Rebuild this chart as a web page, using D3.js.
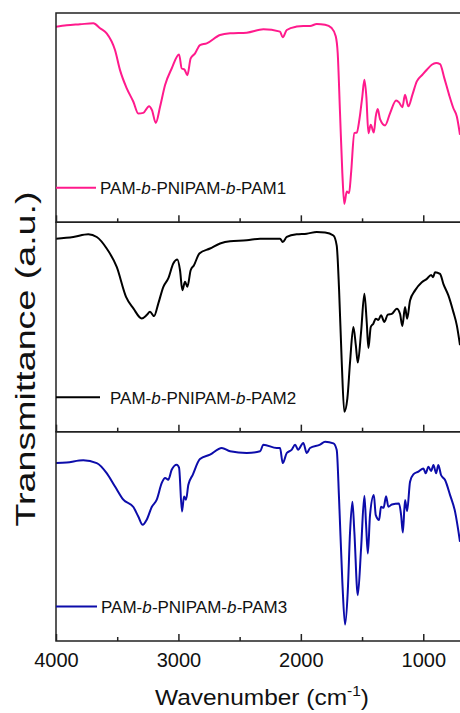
<!DOCTYPE html>
<html>
<head>
<meta charset="utf-8">
<script src="https://cdn.jsdelivr.net/npm/d3@7"></script>
<style>
  body { margin: 0; background: #fff; }
  svg { display: block; font-family: "Liberation Sans", Arial, sans-serif; }
</style>
</head>
<body>
<svg id="chart" width="460" height="713"></svg>
<script>
// FTIR spectra, wavenumber (cm-1) vs transmittance (a.u.)
var wn1 = [4000,3913,3804,3695,3640,3586,3518,3477,3422,3368,3328,3287,3240,3216,3185,3150,3109,3055,2995,2973,
  2952,2927,2900,2864,2824,2769,2660,2578,2442,2306,2170,2148,2115,2034,1980,1925,1870,1802,1748,1715,
  1699,1680,1661,1645,1625,1606,1590,1563,1543,1522,1498,1481,1465,1448,1429,1404,1388,1372,1353,1312,
  1271,1222,1198,1171,1149,1122,1089,1053,1007,971,931,895,863,828,789,754,726,700]
var tr1 = [93.4,94.1,94.6,95.1,92.7,90.3,82.3,72.7,64.0,57.6,52.0,52.3,55.5,53.6,47.5,55.2,65.6,73.5,80.2,73.5,
  73.1,70.3,78.3,80.7,84.7,85.5,89.5,90.3,90.6,92.2,91.1,88.4,91.9,93.5,93.8,93.8,94.7,94.4,92.8,88.9,
  80.9,52.2,23.4,8.8,14.7,13.9,23.4,42.6,42.9,49.0,60.1,68.1,60.1,42.6,46.6,42.9,50.6,54.1,49.3,46.3,
  52.2,58.2,57.3,55.0,60.9,55.4,60.9,67.3,70.5,72.9,75.3,76.1,75.6,68.9,60.9,54.5,50.6,41.8]

var wn2 = [4000,3859,3736,3667,3586,3504,3428,3368,3300,3259,3232,3199,3164,3123,3083,3042,3009,2987,2968,2946,
  2927,2900,2873,2829,2742,2660,2578,2442,2333,2170,2148,2115,2034,1952,1870,1802,1734,1707,1688,1666,
  1645,1620,1598,1571,1551,1535,1508,1481,1462,1448,1429,1408,1388,1367,1345,1318,1290,1257,1216,1190,
  1171,1149,1132,1108,1067,1012,971,936,920,904,863,836,795,754,726,700]
var tr2 = [92.2,93.0,94.3,93.0,87.5,78.7,64.4,58.9,54.1,55.7,57.3,55.2,61.3,69.2,73.2,80.3,82.2,77.1,67.6,71.6,
  69.2,77.1,79.5,85.1,87.5,89.9,91.0,91.4,92.2,92.2,90.6,93.0,94.3,94.6,95.4,95.2,93.7,88.9,68.2,33.3,
  9.5,15.9,33.3,50.0,41.3,33.0,47.6,65.9,52.4,40.0,50.0,51.6,54.0,53.3,55.6,52.4,55.9,56.3,58.7,56.3,
  50.5,59.5,54.0,62.7,67.5,71.4,73.0,74.9,73.8,76.2,75.4,70.6,65.1,57.1,50.8,41.3]

var wn3 = [4000,3913,3777,3667,3586,3518,3450,3368,3328,3292,3259,3218,3177,3136,3109,3083,3055,3014,2995,2971,
  2954,2938,2919,2883,2824,2742,2646,2578,2442,2333,2306,2197,2170,2148,2115,2074,2047,2023,1980,1952,
  1925,1843,1802,1734,1707,1688,1661,1639,1617,1598,1579,1563,1535,1508,1481,1467,1453,1435,1404,1388,
  1361,1345,1324,1304,1285,1257,1198,1181,1167,1149,1132,1108,1081,1040,999,980,958,936,917,895,
  877,855,822,781,740,700]
var tr3 = [85.0,85.3,86.3,85.0,80.2,73.8,67.5,64.0,59.5,55.5,57.9,64.0,67.5,75.5,77.9,77.0,81.8,84.2,82.8,61.9,
  69.0,67.5,74.6,79.4,86.9,89.0,92.2,90.6,89.8,90.6,93.8,92.2,92.2,85.0,89.8,91.4,93.8,91.4,94.6,89.8,
  92.2,93.8,95.2,94.4,91.2,68.1,28.2,7.8,23.4,52.2,66.5,52.2,21.9,44.2,69.4,55.4,41.8,60.1,69.7,60.1,
  57.8,64.1,63.6,69.2,64.1,65.2,65.7,60.1,51.8,67.3,62.1,76.1,79.6,80.9,82.4,80.1,83.3,81.2,84.1,80.1,
  84.1,79.3,76.9,69.7,61.7,47.4]

var labels = ["PAM-b-PNIPAM-b-PAM1", "PAM-b-PNIPAM-b-PAM2", "PAM-b-PNIPAM-b-PAM3"]
var colors = ["#ff1a8c", "#000000", "#0c0caa"]
var majorTicks = [4000, 3000, 2000, 1000]
var minorTicks = [3500, 2500, 1500]

var spectra = [[wn1, tr1], [wn2, tr2], [wn3, tr3]].map(function(s) {
  return s[0].map(function(w, i) { return {w: w, t: s[1][i]} })
})

var svg = d3.select("#chart")
// note: "top" is taken by window.top, so plot* names
var plotLeft = 56, plotRight = 460, plotTop = 13, plotBottom = 641

var x = d3.scaleLinear().domain([4000, 700]).range([plotLeft, plotRight])
var band = d3.scaleBand().domain([0, 1, 2]).range([plotTop, plotBottom]).paddingInner(0)
var h = band.bandwidth()

svg.append("clipPath").attr("id", "clip")
  .append("rect").attr("x", plotLeft).attr("y", plotTop)
  .attr("width", plotRight - plotLeft).attr("height", plotBottom - plotTop)

// legend line length / gap differ a little per panel in the original
var legendLen = [40, 44, 41]
var legendGap = [4, 10, 4]

spectra.forEach(function(data, i) {
  var y0 = band(i)
  var y = d3.scaleLinear().domain([0, 100]).range([y0 + h, y0])
  var g = svg.append("g")

  var line = d3.line()
    .x(function(d) { return x(d.w) })
    .y(function(d) { return y(d.t) })
    .curve(d3.curveMonotoneX)

  g.append("path")
    .datum(data)
    .attr("clip-path", "url(#clip)")
    .attr("fill", "none")
    .attr("stroke", colors[i])
    .attr("stroke-width", 2)
    .attr("stroke-linejoin", "round")
    .attr("d", line)

  // frame (no right edge visible in the original)
  g.append("path")
    .attr("fill", "none")
    .attr("stroke", "#222")
    .attr("stroke-width", 1.5)
    .attr("d", "M" + (plotRight + 2) + "," + y0 + "H" + plotLeft + "V" + (y0 + h) + "H" + (plotRight + 2))

  // inward ticks on the bottom of each panel
  var axMajor = d3.axisBottom(x).tickValues(majorTicks).tickSize(-7).tickFormat("")
  var axMinor = d3.axisBottom(x).tickValues(minorTicks).tickSize(-4).tickFormat("")
  ;[axMajor, axMinor].forEach(function(ax) {
    var a = g.append("g").attr("transform", "translate(0," + (y0 + h) + ")").call(ax)
    a.select(".domain").remove()
    a.selectAll("line").attr("stroke", "#222").attr("stroke-width", 1.5)
  })

  // legend
  var ly = y0 + h * 0.835
  g.append("line")
    .attr("x1", plotLeft).attr("x2", plotLeft + legendLen[i])
    .attr("y1", ly).attr("y2", ly)
    .attr("stroke", colors[i]).attr("stroke-width", 2)
  var parts = labels[i].split("-")
  var txt = g.append("text")
    .attr("x", plotLeft + legendLen[i] + legendGap[i])
    .attr("y", ly + 6.5)
    .attr("font-size", 17)
    .attr("fill", "#111")
  parts.forEach(function(p, k) {
    txt.append("tspan")
      .attr("font-style", p === "b" ? "italic" : "normal")
      .text(p + (k < parts.length - 1 ? "-" : ""))
  })
})

// tick labels along the bottom
var labAxis = svg.append("g")
  .attr("transform", "translate(0," + plotBottom + ")")
  .call(d3.axisBottom(x).tickValues(majorTicks).tickSize(0).tickPadding(11.5).tickFormat(d3.format("d")))
labAxis.select(".domain").remove()
labAxis.selectAll("text")
  .attr("font-size", 20)
  .attr("font-family", "Liberation Sans, Arial, sans-serif")
  .attr("fill", "#111")

// x title
var xt = svg.append("text")
  .attr("x", 262).attr("y", 705)
  .attr("text-anchor", "middle")
  .attr("font-size", 22)
  .attr("fill", "#111")
  .attr("textLength", 214)
  .attr("lengthAdjust", "spacingAndGlyphs")
xt.append("tspan").text("Wavenumber (cm")
xt.append("tspan").attr("font-size", 14).attr("dy", -9).text("-1")
xt.append("tspan").attr("dy", 9).text(")")

// y title
svg.append("text")
  .attr("transform", "translate(35,359) rotate(-90)")
  .attr("text-anchor", "middle")
  .attr("font-size", 27)
  .attr("fill", "#111")
  .attr("textLength", 335)
  .attr("lengthAdjust", "spacingAndGlyphs")
  .text("Transmittance (a.u.)")
</script>
</body>
</html>
